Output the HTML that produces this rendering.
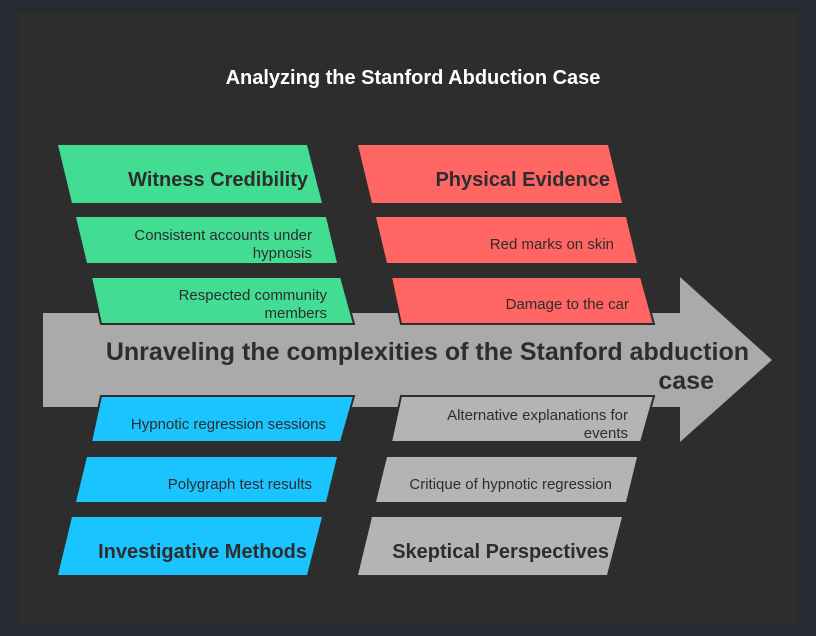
<!DOCTYPE html>
<html><head><style>
html,body{margin:0;padding:0;background:#262a33;}
svg{display:block}
text{font-family:"Liberation Sans",Arial,sans-serif;fill:#2d2d2d}
</style></head><body>
<svg width="816" height="636" viewBox="0 0 816 636" xmlns="http://www.w3.org/2000/svg">
<rect x="0" y="0" width="816" height="636" fill="#262a33"/>
<rect x="18" y="12" width="780" height="612" fill="#2d2d2d"/>
<text x="413" y="84" text-anchor="middle" font-size="20" font-weight="bold" style="fill:#fff">Analyzing the Stanford Abduction Case</text>
<polygon points="43,313 680,313 680,277 772,360 680,442 680,407 43,407" fill="#aaaaaa"/>
<!-- green -->
<polygon points="58,145 307,145 322,203 72,203" fill="#42dd92"/>
<polygon points="76,217 326,217 337,263 87,263" fill="#42dd92"/>
<polygon points="91,277 341,277 354,324 101,324" fill="#42dd92" stroke="#2d2d2d" stroke-width="2"/>
<text x="308" y="186" text-anchor="end" font-size="20" font-weight="bold">Witness Credibility</text>
<text x="312" y="240" text-anchor="end" font-size="15">Consistent accounts under</text>
<text x="312" y="258" text-anchor="end" font-size="15">hypnosis</text>
<text x="327" y="300" text-anchor="end" font-size="15">Respected community</text>
<text x="327" y="318" text-anchor="end" font-size="15">members</text>
<!-- red -->
<polygon points="358,145 608,145 622,203 372,203" fill="#ff6663"/>
<polygon points="376,217 626,217 637,263 387,263" fill="#ff6663"/>
<polygon points="391,277 641,277 654,324 401,324" fill="#ff6663" stroke="#2d2d2d" stroke-width="2"/>
<text x="610" y="186" text-anchor="end" font-size="20" font-weight="bold">Physical Evidence</text>
<text x="614" y="249" text-anchor="end" font-size="15">Red marks on skin</text>
<text x="629" y="309" text-anchor="end" font-size="15">Damage to the car</text>
<!-- center -->
<text x="749" y="360" text-anchor="end" font-size="25" font-weight="bold">Unraveling the complexities of the Stanford abduction</text>
<text x="714" y="389" text-anchor="end" font-size="25" font-weight="bold">case</text>
<!-- blue -->
<polygon points="101,396 354,396 341,442 91,442" fill="#1ac4ff" stroke="#2d2d2d" stroke-width="2"/>
<polygon points="87,457 337,457 326,502 76,502" fill="#1ac4ff"/>
<polygon points="72,517 322,517 307,575 58,575" fill="#1ac4ff"/>
<text x="326" y="429" text-anchor="end" font-size="15">Hypnotic regression sessions</text>
<text x="312" y="489" text-anchor="end" font-size="15">Polygraph test results</text>
<text x="307" y="558" text-anchor="end" font-size="20" font-weight="bold">Investigative Methods</text>
<!-- gray -->
<polygon points="401,396 654,396 641,442 391,442" fill="#b4b4b4" stroke="#2d2d2d" stroke-width="2"/>
<polygon points="387,457 637,457 626,502 376,502" fill="#b4b4b4"/>
<polygon points="372,517 622,517 607,575 358,575" fill="#b4b4b4"/>
<text x="628" y="420" text-anchor="end" font-size="15">Alternative explanations for</text>
<text x="628" y="438" text-anchor="end" font-size="15">events</text>
<text x="612" y="489" text-anchor="end" font-size="15">Critique of hypnotic regression</text>
<text x="609" y="558" text-anchor="end" font-size="20" font-weight="bold">Skeptical Perspectives</text>
</svg>
</body></html>
